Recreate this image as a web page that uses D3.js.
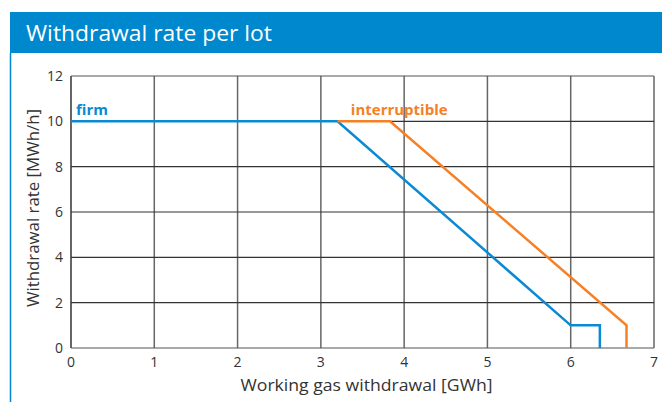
<!DOCTYPE html>
<html>
<head>
<meta charset="utf-8">
<script src="https://cdn.jsdelivr.net/npm/d3@7"></script>
<style>
  body { margin: 0; background: #fff; }
  svg { display: block; font-family: 'Open Sans', 'Noto Sans', sans-serif; }
</style>
</head>
<body>
<svg width="662" height="403"></svg>
<script>
const title = 'Withdrawal rate per lot';
const xTicks = [0, 1, 2, 3, 4, 5, 6, 7];
const yTicks = [0, 2, 4, 6, 8, 10, 12];

// gas withdrawn [GWh] vs rate [MWh/h]
const firmX = [0, 3.2, 6.0, 6.35, 6.35];
const firmY = [10, 10, 1, 1, 0];
const interX = [3.2, 3.83, 6.67, 6.67];
const interY = [10, 10, 1, 0];

const svg = d3.select('svg');
const blue = '#0a8ad2';
const orange = '#f58025';

// header band + frame line
svg.append('rect').attr('x', 10).attr('y', 12).attr('width', 652).attr('height', 41).attr('fill', '#0088cf');
svg.append('text').attr('x', 26).attr('y', 41).attr('fill', '#fff')
  .attr('font-size', 22.5).attr('textLength', 246).attr('lengthAdjust', 'spacingAndGlyphs').text(title);
svg.append('line').attr('x1', 10.5).attr('x2', 10.5).attr('y1', 53).attr('y2', 402)
  .attr('stroke', '#0088cf').attr('stroke-width', 1.5);

const x = d3.scaleLinear().domain([0, 7]).range([71, 654]);
const y = d3.scaleLinear().domain([0, 12]).range([348, 76]);

const grid = svg.append('g');
grid.selectAll('line.v').data(xTicks).join('line').attr('class', 'v')
  .attr('x1', (d) => x(d)).attr('x2', (d) => x(d))
  .attr('y1', y(0)).attr('y2', y(12))
  .attr('stroke', (d) => (d === 0 ? '#333' : '#666')).attr('stroke-width', 1.5);
grid.selectAll('line.h').data(yTicks).join('line').attr('class', 'h')
  .attr('x1', x(0)).attr('x2', x(7))
  .attr('y1', (d) => y(d)).attr('y2', (d) => y(d))
  .attr('stroke', (d) => (d === 0 || d === 12 ? '#555' : '#333')).attr('stroke-width', 1.2);

svg.append('g').selectAll('text').data(yTicks).join('text')
  .attr('x', 63).attr('y', (d) => y(d) + 5).attr('text-anchor', 'end')
  .attr('font-size', 14).attr('fill', '#333').text((d) => d);
svg.append('g').selectAll('text').data(xTicks).join('text')
  .attr('x', (d) => x(d)).attr('y', y(0) + 19).attr('text-anchor', 'middle')
  .attr('font-size', 14).attr('fill', '#333').text((d) => d);

svg.append('text').attr('x', (x(0) + x(7)) / 2 + 4).attr('y', 391).attr('text-anchor', 'middle')
  .attr('font-size', 16.5).attr('fill', '#333')
  .attr('textLength', 252).attr('lengthAdjust', 'spacingAndGlyphs').text('Working gas withdrawal [GWh]');
svg.append('text').attr('transform', `translate(39,${(y(0) + y(12)) / 2 - 4}) rotate(-90)`)
  .attr('text-anchor', 'middle').attr('font-size', 16.5).attr('fill', '#333')
  .attr('textLength', 198).attr('lengthAdjust', 'spacingAndGlyphs').text('Withdrawal rate [MWh/h]');

const line = d3.line().x((d) => x(d[0])).y((d) => y(d[1]));
svg.append('path').datum(d3.zip(firmX, firmY)).attr('d', line)
  .attr('fill', 'none').attr('stroke', blue).attr('stroke-width', 2.5);
svg.append('path').datum(d3.zip(interX, interY)).attr('d', line)
  .attr('fill', 'none').attr('stroke', orange).attr('stroke-width', 2.5);

svg.append('text').attr('x', x(0) + 5).attr('y', y(10) - 6).attr('fill', blue)
  .attr('font-size', 15).attr('font-weight', 'bold').text('firm');
svg.append('text').attr('x', x(3.36)).attr('y', y(10) - 6).attr('fill', orange)
  .attr('font-size', 15).attr('font-weight', 'bold').text('interruptible');
</script>
</body>
</html>
